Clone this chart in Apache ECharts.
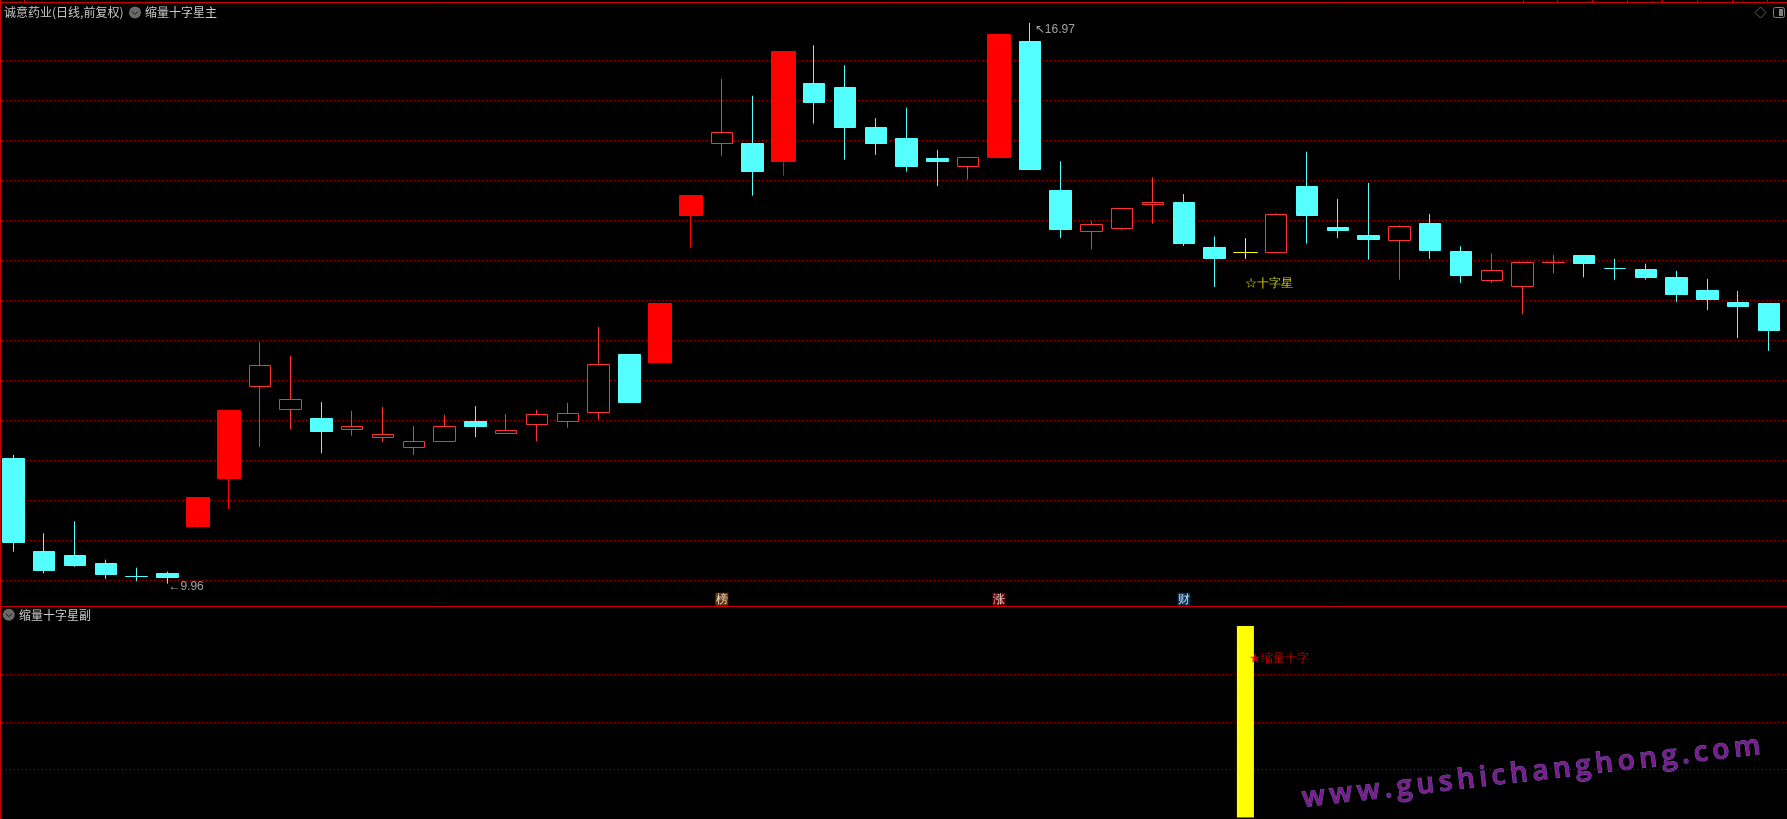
<!DOCTYPE html>
<html>
<head>
<meta charset="utf-8">
<style>html,body{margin:0;padding:0;background:#000;overflow:hidden}#c{width:1787px;height:819px}</style>
<script src="https://cdn.jsdelivr.net/npm/echarts@6/dist/echarts.min.js"></script>
</head>
<body>
<div id="c"></div>
<script>
// Candle data. kind: c = cyan falling, h = hollow red rising, s = solid red, y = yellow doji
const kinds = ['c','c','c','c','c','c','s','s','h','h','c','h','h','h','h','c','h','h','h','h','c','s','s','h','c','s','c','c','c','c','c','h','s','c','c','h','h','h','c','c','y','h','c','c','c','h','c','c','h','h','h','c','c','c','c','c','c','c'];
const opens  = [11.53,10.36,10.31,10.21,10.05,10.09,10.68,11.27,12.42,12.14,12.03,11.89,11.79,11.66,11.74,11.99,11.84,11.95,11.99,12.10,12.83,12.73,14.56,15.46,15.46,15.24,16.21,16.16,15.66,15.52,15.28,15.17,15.29,16.74,14.88,14.36,14.40,14.70,14.72,14.16,14.10,14.10,14.92,14.41,14.31,14.25,14.46,14.11,13.75,13.67,13.97,14.06,13.90,13.89,13.79,13.62,13.47,13.46];
const closes = [10.47,10.12,10.19,10.08,10.05,10.04,11.04,12.13,12.69,12.26,11.86,11.92,11.83,11.74,11.93,11.93,11.87,12.08,12.09,12.70,12.23,13.46,14.81,15.60,15.11,16.61,15.98,15.66,15.46,15.18,15.24,15.29,16.82,15.14,14.39,14.45,14.65,14.72,14.21,14.03,14.10,14.57,14.56,14.37,14.26,14.43,14.12,13.81,13.88,13.98,13.97,13.96,13.90,13.79,13.57,13.51,13.43,13.12];
const lows   = [10.36,10.09,10.17,10.02,9.99,9.96,10.66,10.89,11.67,11.89,11.59,11.81,11.73,11.57,11.74,11.79,11.83,11.74,11.91,12.01,12.23,12.73,14.16,15.31,14.81,15.06,15.71,15.26,15.32,15.11,14.93,15.01,15.29,15.14,14.28,14.14,14.38,14.46,14.18,13.67,14.02,14.10,14.21,14.28,14.01,13.76,14.02,13.72,13.72,13.33,13.84,13.79,13.76,13.76,13.48,13.38,13.03,12.87];
const highs  = [11.57,10.59,10.74,10.26,10.16,10.11,11.04,12.13,12.98,12.81,12.23,12.12,12.17,11.93,12.07,12.18,12.08,12.13,12.22,13.17,12.83,13.46,14.81,16.27,16.06,16.61,16.69,16.44,15.78,15.91,15.38,15.29,16.82,16.97,15.24,14.49,14.65,15.04,14.83,14.30,14.28,14.59,15.36,14.77,14.97,14.44,14.58,14.18,14.09,13.98,14.07,14.06,14.02,13.96,13.87,13.77,13.62,13.47];
const categories = opens.map((_, i) => String(i)).concat(['']);

// Lower pane signal: 1 on the flagged day
const signalValues = categories.map((_, i) => (i === 40 ? 1 : '-'));

// Text annotations
const lowNote  = { index: 5,  value: 9.96,  text: '←9.96' };
const highNote = { index: 33, value: 16.97, text: '↖16.97' };
const starNote = { index: 40, value: 13.71, text: '☆十字星' };
const sigNote  = { index: 40, value: 0.83,  text: '★缩量十字' };
const badgeIndex = [23, 32, 38];
const badgeValue = [9.765, 9.765, 9.765];
const badgeText  = ['榜', '涨', '财'];
const badgeColor = ['#7f3f00', '#800000', '#003a70'];
const titleMain = '诚意药业(日线,前复权)';
const titleInd1 = '缩量十字星主';
const titleInd2 = '缩量十字星副';
const watermark = 'www.gushichanghong.com';
const priceMin = 9.5, priceMax = 17, priceStep = 0.5;

const CJK = '"Noto Sans CJK SC","Liberation Sans",sans-serif';
const NUM = '"Liberation Sans","Noto Sans CJK SC",sans-serif';
const GRID_LINE = { color: '#b00000', width: 1, type: [1, 3] };

// One axis pixel is 1/80 of a price unit; keep body edges on whole pixels so 1px outlines stay crisp.
const crisp = v => Math.round(v * 80) / 80;

function candleSeries(kind, color, fill, barWidth, z) {
  return {
    type: 'candlestick', xAxisIndex: 0, yAxisIndex: 0, barWidth, z, silent: true,
    itemStyle: { color: fill, color0: fill, borderColor: color, borderColor0: color, borderWidth: 1 },
    data: kinds.map((k, i) => (k === kind ? [crisp(opens[i]), crisp(closes[i]), lows[i], highs[i]] : ['-', '-', '-', '-']))
  };
}
function noteSeries(xAxisIndex, yAxisIndex, items) {
  return {
    type: 'scatter', xAxisIndex, yAxisIndex, symbolSize: 0, silent: true, z: 10,
    data: items.map(it => ({ value: [String(it.index), it.value], label: it.label }))
  };
}
function txt(x, y, text, color) {
  return { type: 'text', silent: true, x, y, style: { text, fill: color || '#c8c8c8', font: '12px ' + CJK, textVerticalAlign: 'middle' } };
}
function chevron(cx, cy) {
  return [
    { type: 'circle', silent: true, shape: { cx, cy, r: 6 }, style: { fill: '#6a6a6a' } },
    { type: 'polyline', silent: true, shape: { points: [[cx - 3, cy - 1], [cx, cy + 2], [cx + 3, cy - 1]] }, style: { stroke: '#1a1a1a', fill: null, lineWidth: 1 } }
  ];
}
function vline(x, y1, y2) { return { type: 'line', silent: true, shape: { x1: x, y1, x2: x, y2 }, style: { stroke: '#c80000', lineWidth: 1 } }; }
function hline(y) { return { type: 'line', silent: true, shape: { x1: 0, y1: y, x2: 1787, y2: y }, style: { stroke: '#c80000', lineWidth: 1 } }; }
const topTicks = [24.5, 1523.5, 1557.5, 1592.5, 1627.5, 1662.5, 1697.5, 1732.5, 1767.5];

const chart = echarts.init(document.getElementById('c'), null, { renderer: 'canvas', width: 1787, height: 819 });
chart.setOption({
  animation: false,
  backgroundColor: '#000',
  grid: [
    { left: -2, top: 20.5, width: 30.8 * categories.length, height: 600, outerBoundsMode: 'none' },
    { left: -2, top: 626, width: 30.8 * categories.length, height: 191.5, outerBoundsMode: 'none' }
  ],
  xAxis: [
    { type: 'category', gridIndex: 0, data: categories, show: false },
    { type: 'category', gridIndex: 1, data: categories, show: false }
  ],
  yAxis: [
    { type: 'value', gridIndex: 0, min: priceMin, max: priceMax, interval: priceStep, scale: true,
      axisLabel: { show: false }, axisLine: { show: false }, axisTick: { show: false },
      splitLine: { show: true, showMinLine: false, showMaxLine: false, lineStyle: GRID_LINE } },
    { type: 'value', gridIndex: 1, min: 0, max: 1, interval: 0.25,
      axisLabel: { show: false }, axisLine: { show: false }, axisTick: { show: false },
      splitLine: { show: true, showMinLine: false, showMaxLine: false, lineStyle: GRID_LINE } }
  ],
  series: [
    candleSeries('c', '#54ffff', '#54ffff', 22, 3),
    candleSeries('h', '#ff3232', '#000000', 22, 3),
    candleSeries('s', '#ff0000', '#ff0000', 24, 3),
    candleSeries('y', '#ffff00', '#ffff00', 24, 3),
    noteSeries(0, 0, [
      { index: lowNote.index, value: lowNote.value, label: { show: true, position: 'right', distance: 0, offset: [1, 3], formatter: lowNote.text, color: '#c8c8c8', font: '12px ' + NUM } },
      { index: highNote.index, value: highNote.value, label: { show: true, position: 'right', distance: 0, offset: [5, 7], formatter: highNote.text, color: '#c8c8c8', font: '12px ' + NUM } },
      { index: starNote.index, value: starNote.value, label: { show: true, position: 'right', distance: 0, formatter: starNote.text, color: '#ffff00', font: '500 12px ' + CJK } }
    ].concat(badgeIndex.map((idx, i) => ({
      index: idx, value: badgeValue[i],
      label: { show: true, position: 'inside', formatter: badgeText[i], color: '#fff', font: '12px ' + CJK, backgroundColor: badgeColor[i], width: 13, height: 13, lineHeight: 13, align: 'center', verticalAlign: 'middle' }
    })))),
    { type: 'bar', xAxisIndex: 1, yAxisIndex: 1, barWidth: 17, silent: true, itemStyle: { color: '#ffff00' }, data: signalValues, z: 3 },
    noteSeries(1, 1, [
      { index: sigNote.index, value: sigNote.value, label: { show: true, position: 'right', distance: 0, offset: [4, 0], formatter: sigNote.text, color: '#ff0000', font: '500 12px ' + CJK } }
    ])
  ],
  graphic: { elements: [
    hline(2.5), hline(606.5), vline(0.5, 0, 819),
    ...topTicks.map(x => vline(x, 0, 3)),
    txt(4, 12, titleMain),
    ...chevron(135, 12.5),
    txt(145, 12, titleInd1),
    ...chevron(8.8, 614.7),
    txt(19, 615, titleInd2),
    { type: 'polygon', silent: true, shape: { points: [[1760.5, 7], [1766, 12.5], [1760.5, 18], [1755, 12.5]] }, style: { stroke: '#606060', fill: null, lineWidth: 1 } },
    { type: 'rect', silent: true, shape: { x: 1773.5, y: 7.5, width: 11, height: 10, r: 2 }, style: { stroke: '#808080', fill: null, lineWidth: 1 } },
    { type: 'rect', silent: true, shape: { x: 1779, y: 9, width: 4, height: 7 }, style: { fill: '#808080' } },
    { type: 'text', silent: true, x: 1304, y: 813, rotation: 6.6 * Math.PI / 180,
      style: { text: watermark.split('').join('\u2009'), font: '600 28px "Open Sans"', textVerticalAlign: 'bottom',
        fill: '#7c1c8c', stroke: '#6a5cae', lineWidth: 1 } }
  ] }
});
</script>
</body>
</html>
